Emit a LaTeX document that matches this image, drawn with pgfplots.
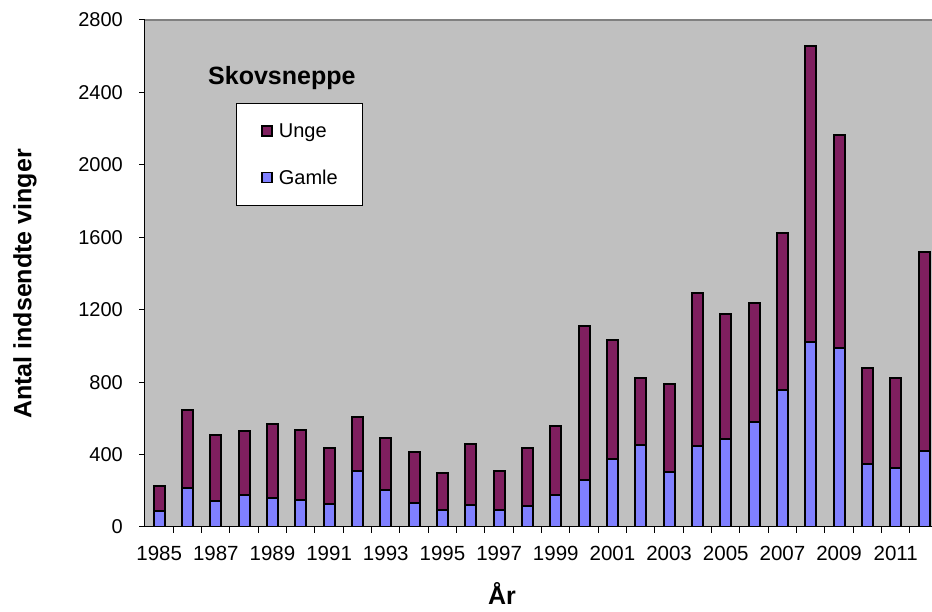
\documentclass[border=0pt]{standalone}
\usepackage{fontspec}
\setmainfont{Liberation Sans}
\usepackage{pgfplots}
\pgfplotsset{compat=1.18}
\definecolor{plotbg}{HTML}{C0C0C0}
\definecolor{unge}{HTML}{7F1F5F}
\definecolor{gamle}{HTML}{8080FF}
\begin{document}
\begin{tikzpicture}[x=1pt,y=1pt]
\path[use as bounding box] (-145,-85) rectangle (787,527);
\begin{axis}[
  at={(0,0)}, anchor=south west,
  scale only axis, width=787pt, height=507pt,
  xmin=1984.5, xmax=2012.28, ymin=0, ymax=2800,
  ybar stacked, bar width=11pt,
  axis background/.style={fill=plotbg},
  axis x line*=bottom, axis y line*=left,
  axis line style={black, line width=1pt},
  tick align=outside,
  tick style={black, line width=1pt},
  major tick length=6pt, minor tick length=6pt,
  ytick={0,400,...,2800},
  xtick={1985,1987,...,2011},
  minor xtick={1985.5,1986.5,...,2011.5},
  major x tick style={draw=none},
  /pgf/number format/assume math mode=true,
  /pgf/number format/1000 sep={},
  xticklabel={\fontsize{20.5}{24}\selectfont\pgfmathprintnumber[1000 sep={},assume math mode=true]{\tick}},
  yticklabel={\fontsize{20}{24}\selectfont\pgfmathprintnumber[1000 sep={},assume math mode=true]{\tick}},
  yticklabel style={inner sep=0pt, anchor=east, xshift=-16pt},
  xticklabel style={inner sep=0pt, anchor=north, yshift=-13pt},
  reverse legend,
  legend cell align=left,
  legend image code/.code={\draw[#1, line width=1.5pt] (0pt,-5pt) rectangle (10pt,5pt);},
  legend style={at={(axis description cs:0.1156,0.8363)}, anchor=north west,
    draw=black, line width=0.8pt, fill=white,
    inner xsep=25pt, inner ysep=20pt, row sep=31pt,
    font=\fontsize{20}{24}\selectfont,
    nodes={inner sep=0pt},
    /tikz/every odd column/.append style={column sep=6pt}},
]
\addplot[fill=gamle, draw=black, line width=2pt] coordinates {
(1985,89) (1986,218) (1987,144) (1988,178) (1989,162) (1990,148) (1991,129)
(1992,311) (1993,202) (1994,135) (1995,95) (1996,119) (1997,93) (1998,116)
(1999,178) (2000,257) (2001,376) (2002,455) (2003,303) (2004,449) (2005,485)
(2006,578) (2007,756) (2008,1019) (2009,989) (2010,350) (2011,327) (2012,420)};
\addlegendentry{Gamle}
\addplot[fill=unge, draw=black, line width=2pt] coordinates {
(1985,139) (1986,429) (1987,365) (1988,352) (1989,406) (1990,386) (1991,306)
(1992,298) (1993,289) (1994,281) (1995,202) (1996,342) (1997,214) (1998,319)
(1999,382) (2000,855) (2001,659) (2002,366) (2003,489) (2004,841) (2005,692)
(2006,659) (2007,867) (2008,1639) (2009,1178) (2010,527) (2011,498) (2012,1100)};
\addlegendentry{Unge}
\draw[black!50, line width=1.5pt] (rel axis cs:0,1) -- (rel axis cs:1,1);
\end{axis}
\node[anchor=base west, inner sep=0pt, font=\bfseries\fontsize{25}{30}\selectfont] at (63,442) {Skovsneppe};
\node[anchor=base, inner sep=0pt, font=\bfseries\fontsize{25}{30}\selectfont] at (357,-78) {År};
\node[inner sep=0pt, rotate=90, font=\bfseries\fontsize{25}{30}\selectfont] at (-120,243) {Antal indsendte vinger};
\end{tikzpicture}
\end{document}
